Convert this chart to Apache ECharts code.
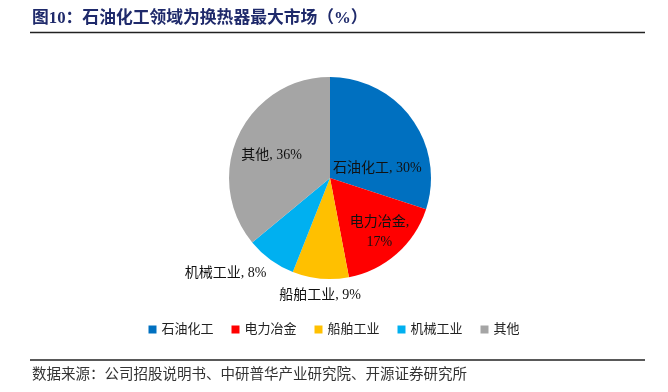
<!DOCTYPE html>
<html>
<head>
<meta charset="utf-8">
<script src="https://cdn.jsdelivr.net/npm/echarts@6/dist/echarts.min.js"></script>
<style>
  html, body { margin: 0; padding: 0; background: #fff; }
  #chart { width: 668px; height: 392px; }
</style>
</head>
<body>
<div id="chart"></div>
<script>
var categories = ['石油化工', '电力冶金', '船舶工业', '机械工业', '其他'];
var shares = [30, 17, 9, 8, 36];
var colors = ['#0070C0', '#FF0000', '#FFC000', '#00B0F0', '#A5A5A5'];
// label nudges so they land where the original puts them
var labelOffsets = [[4, 22], [14, 14], [-5, 64], [-73, 52], [-10, 0]];

var font = '"Liberation Serif", "Noto Sans CJK SC", serif';

var myChart = echarts.init(document.getElementById('chart'));

var pieData = categories.map(function (name, i) {
  return {
    name: name,
    value: shares[i],
    itemStyle: { color: colors[i] },
    label: { offset: labelOffsets[i] }
  };
});
// 电力冶金 label wraps onto two lines
pieData[1].label.formatter = '{b},\n{c}%';

var option = {
  animation: false,
  graphic: [
    {
      type: 'text', left: 32, top: 10,
      style: { text: '图10：石油化工领域为换热器最大市场（%）', font: 'bold 16.8px ' + font, fill: '#1F2A6B' }
    },
    {
      type: 'line', shape: { x1: 30, y1: 32.5, x2: 645, y2: 32.5 },
      style: { stroke: '#222', lineWidth: 1.5 }
    },
    {
      type: 'line', shape: { x1: 30, y1: 360, x2: 645, y2: 360 },
      style: { stroke: '#222', lineWidth: 1.5 }
    },
    {
      type: 'text', left: 32, top: 368,
      style: { text: '数据来源：公司招股说明书、中研普华产业研究院、开源证券研究所', font: '14.5px ' + font, fill: '#333' }
    }
  ],
  legend: {
    top: 318,
    left: 'center',
    itemWidth: 8,
    itemHeight: 8,
    itemGap: 18,
    icon: 'rect',
    textStyle: { fontFamily: font, fontSize: 13, color: '#222' },
    data: categories
  },
  series: [
    {
      type: 'pie',
      center: [330, 178],
      radius: [0, 101],
      startAngle: 90,
      clockwise: true,
      label: {
        position: 'inside',
        formatter: '{b}, {c}%',
        fontFamily: font,
        fontSize: 14,
        color: '#111',
        lineHeight: 20
      },
      labelLine: { show: false },
      itemStyle: { borderWidth: 0 },
      emphasis: { disabled: true },
      data: pieData
    }
  ]
};
myChart.setOption(option);
</script>
</body>
</html>
